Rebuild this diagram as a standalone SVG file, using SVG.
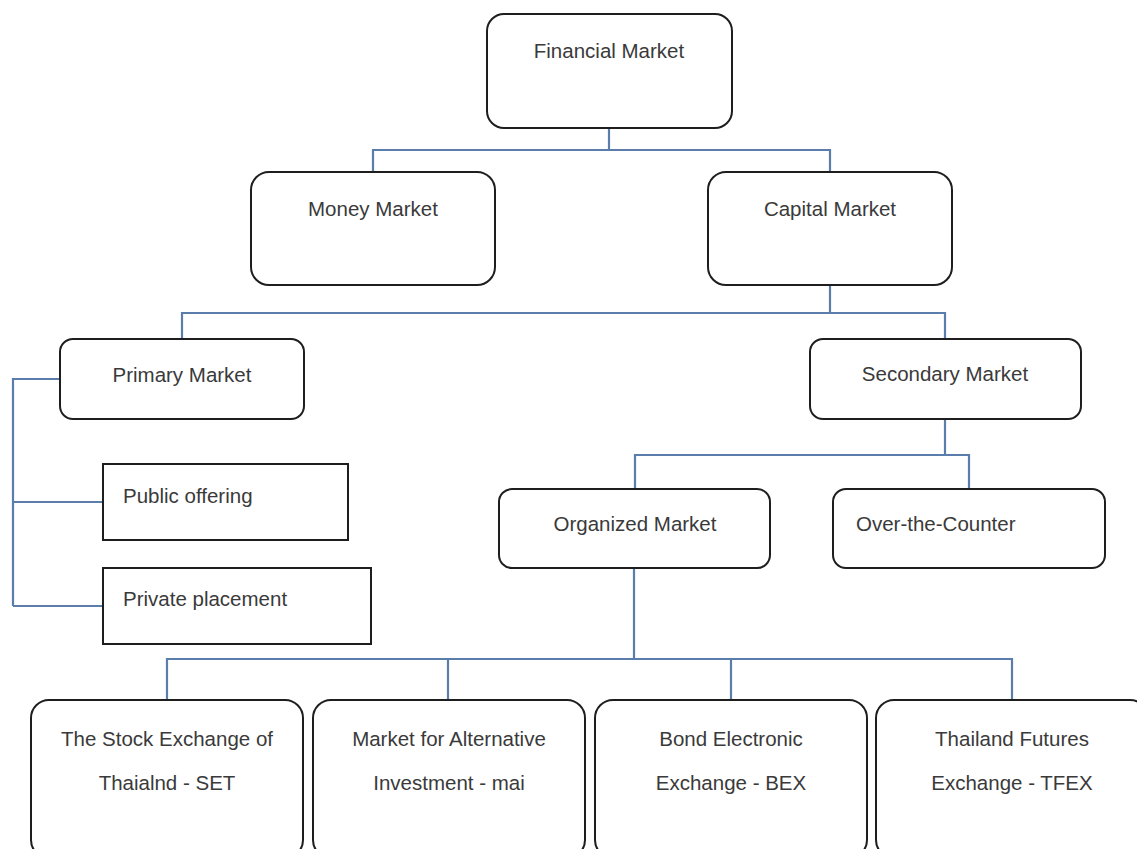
<svg xmlns="http://www.w3.org/2000/svg" width="1137" height="849" viewBox="0 0 1137 849">
<style>
.box{fill:#fff;stroke:#1e1e1e;stroke-width:2}
.t{font-family:"Liberation Sans",Arial,sans-serif;font-size:20.5px;fill:#3a3a3a}
.c{text-anchor:middle}
.conn{fill:none;stroke:#5b7dab;stroke-width:2.2}
</style>
<rect width="1137" height="849" fill="#fff"/>
<g id="connectors" class="conn">
<path d="M609 128V150M373 172V150H830V172"/>
<path d="M830 285V313M182 339V313H945V339"/>
<path d="M60 379H13V606M13 502H103M13 606H103"/>
<path d="M945 419V455M635 489V455H969V489"/>
<path d="M634 568V659M167 700V659H1012V700M448 659V700M731 659V700"/>
</g>
<g id="financial"><rect class="box" x="487" y="14" width="245" height="114" rx="17"/><text class="t c" x="609" y="58">Financial Market</text></g>
<g id="money"><rect class="box" x="251" y="172" width="244" height="113" rx="18"/><text class="t c" x="373" y="216">Money Market</text></g>
<g id="capital"><rect class="box" x="708" y="172" width="244" height="113" rx="18"/><text class="t c" x="830" y="216">Capital Market</text></g>
<g id="primary"><rect class="box" x="60" y="339" width="244" height="80" rx="13"/><text class="t c" x="182" y="382">Primary Market</text></g>
<g id="secondary"><rect class="box" x="810" y="339" width="271" height="80" rx="13"/><text class="t c" x="945" y="381">Secondary Market</text></g>
<g id="public"><rect class="box" x="103" y="464" width="245" height="76"/><text class="t" x="123" y="503">Public offering</text></g>
<g id="private"><rect class="box" x="103" y="568" width="268" height="76"/><text class="t" x="123" y="606">Private placement</text></g>
<g id="organized"><rect class="box" x="499" y="489" width="271" height="79" rx="13"/><text class="t c" x="635" y="531">Organized Market</text></g>
<g id="otc"><rect class="box" x="833" y="489" width="272" height="79" rx="13"/><text class="t" x="856" y="531">Over-the-Counter</text></g>
<g id="set"><rect class="box" x="31" y="700" width="272" height="158" rx="18"/><text class="t c" x="167" y="746">The Stock Exchange of</text><text class="t c" x="167" y="790">Thaialnd - SET</text></g>
<g id="mai"><rect class="box" x="313" y="700" width="272" height="158" rx="18"/><text class="t c" x="449" y="746">Market for Alternative</text><text class="t c" x="449" y="790">Investment - mai</text></g>
<g id="bex"><rect class="box" x="595" y="700" width="272" height="158" rx="18"/><text class="t c" x="731" y="746">Bond Electronic</text><text class="t c" x="731" y="790">Exchange - BEX</text></g>
<g id="tfex"><rect class="box" x="876" y="700" width="272" height="158" rx="18"/><text class="t c" x="1012" y="746">Thailand Futures</text><text class="t c" x="1012" y="790">Exchange - TFEX</text></g>
</svg>
